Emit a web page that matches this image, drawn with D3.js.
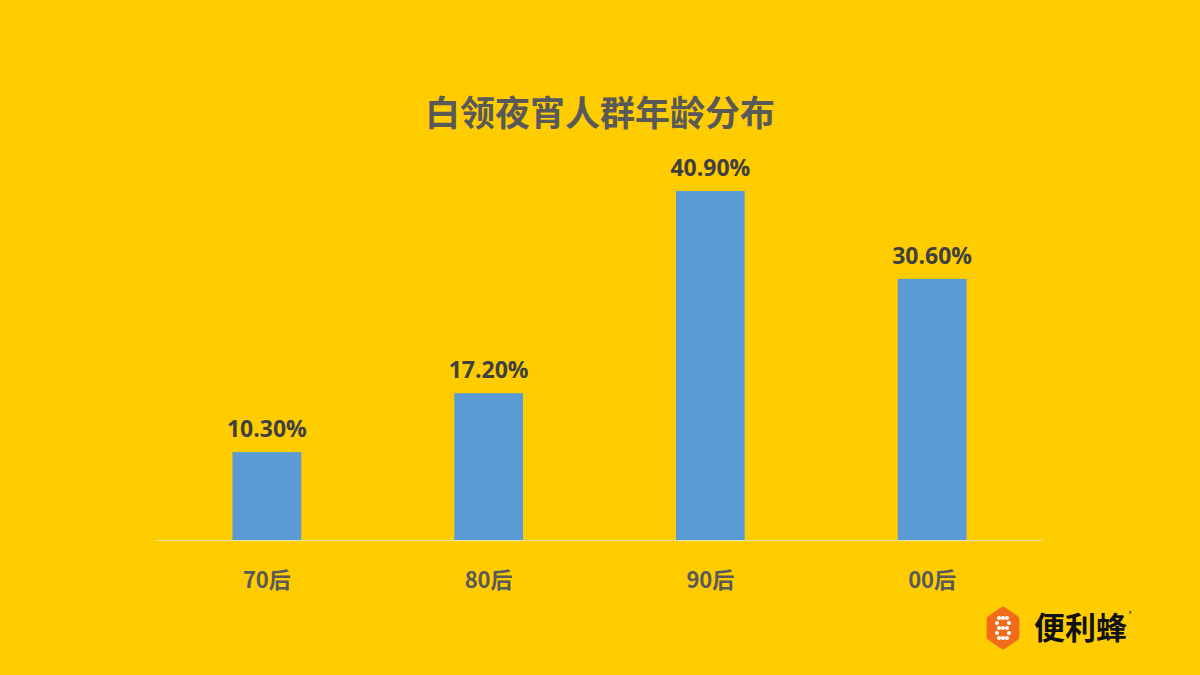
<!DOCTYPE html>
<html><head><meta charset="utf-8">
<script src="https://cdn.jsdelivr.net/npm/d3@7"></script>
<style>html,body{margin:0;padding:0;background:#FFCC00;}</style>
</head><body>
<svg id="c" width="1200" height="675"></svg>
<script>
const categories = ["70后","80后","90后","00后"];
const values = [10.3, 17.2, 40.9, 30.6];
const valueLabels = ["10.30%","17.20%","40.90%","30.60%"];
const title = "白领夜宵人群年龄分布";

const svg = d3.select("#c");
svg.append("rect").attr("width",1200).attr("height",675).attr("fill","#FFCC00");

const x = d3.scaleBand().domain(categories).range([156,1043]).paddingInner(0.69).paddingOuter(0.345);
const y = d3.scaleLinear().domain([0,45]).range([540,156]);

svg.append("text").attr("x",600).attr("y",126).attr("text-anchor","middle")
  .attr("font-family","'Noto Sans CJK SC'").attr("font-weight","bold").attr("font-size",35)
  .attr("fill","#595959").text(title);

svg.selectAll("rect.bar").data(values).join("rect").attr("class","bar")
  .attr("x",(d,i)=>x(categories[i])).attr("width",x.bandwidth())
  .attr("y",d=>y(d)).attr("height",d=>y(0)-y(d)).attr("fill","#5B9BD5");

svg.append("line").attr("x1",156).attr("x2",1043).attr("y1",y(0)+0.5).attr("y2",y(0)+0.5)
  .attr("stroke","#E8DFC0").attr("stroke-width",1.2);

svg.selectAll("text.val").data(values).join("text").attr("class","val")
  .attr("x",(d,i)=>x(categories[i])+x.bandwidth()/2).attr("y",d=>y(d)-15)
  .attr("text-anchor","middle").attr("font-family","'Open Sans'").attr("font-weight","bold")
  .attr("font-size",23).attr("fill","#404040").text((d,i)=>valueLabels[i]);

svg.selectAll("text.cat").data(categories).join("text").attr("class","cat")
  .attr("x",d=>x(d)+x.bandwidth()/2).attr("y",588)
  .attr("text-anchor","middle").attr("font-family","'Noto Sans CJK SC'").attr("font-weight","bold")
  .attr("font-size",22).attr("fill","#595959").text(d=>d);

// logo
const g = svg.append("g").attr("transform","translate(1003,628)");
const hex = d3.range(6).map(k=>{const a=Math.PI/3*k+Math.PI/6; return [16*Math.cos(a),19*Math.sin(a)];});
g.append("path").attr("d",d3.line().curve(d3.curveLinearClosed)(hex)).attr("fill","#F26B1D")
  .attr("stroke","#F26B1D").attr("stroke-width",5).attr("stroke-linejoin","round");
const dots=[[-4,-10],[0,-10],[4,-10],[-6,-5],[6,-5],[-4,0],[0,0],[4,0],[-6,5],[6,5],[-4,10],[0,10],[4,10]];
g.selectAll("circle").data(dots).join("circle").attr("cx",d=>d[0]).attr("cy",d=>d[1]).attr("r",2).attr("fill","#fff");
svg.append("text").attr("x",1034).attr("y",639).attr("font-family","'Noto Sans CJK SC'").attr("font-weight","bold")
  .attr("font-size",31).attr("fill","#111").text("便利蜂");
svg.append("text").attr("x",1128).attr("y",619).attr("font-family","'Noto Sans CJK SC'")
  .attr("font-size",12).attr("fill","#111").text("ʼ");
</script>
</body></html>
